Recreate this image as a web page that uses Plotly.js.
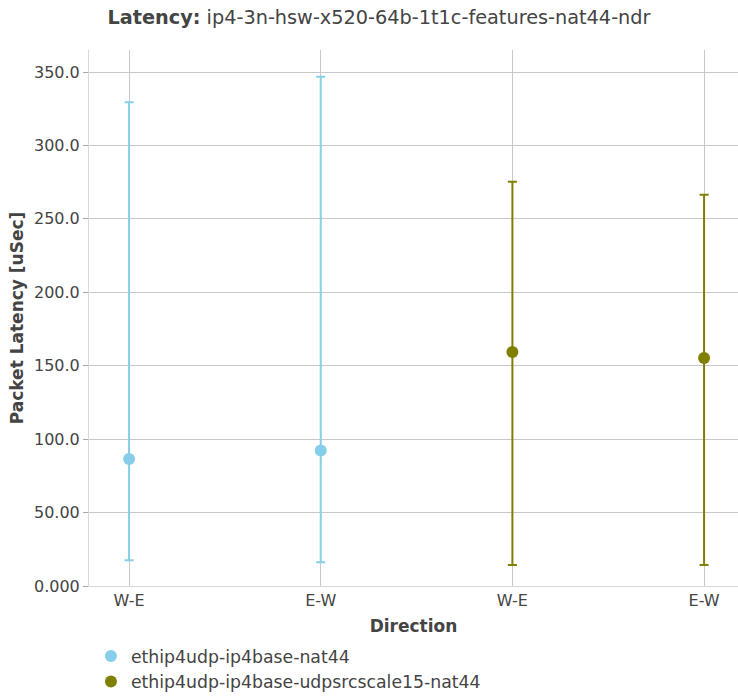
<!DOCTYPE html>
<html>
<head>
<meta charset="utf-8">
<script src="https://cdn.plot.ly/plotly-3.0.1.min.js"></script>
<style>html,body{margin:0;padding:0;background:#fff;}</style>
</head>
<body>
<div id="chart" style="width:738px;height:699px;"></div>
<script>
const tickVals = [0, 1, 2, 3];
const tickLabels = ["W-E", "E-W", "W-E", "E-W"];

const s1Name = "ethip4udp-ip4base-nat44";
const s1X = [0, 1];
const s1Avg = [86.5, 92.2];
const s1Max = [329.5, 346.8];
const s1Min = [17.5, 16.1];

const s2Name = "ethip4udp-ip4base-udpsrcscale15-nat44";
const s2X = [2, 3];
const s2Avg = [159.4, 155.3];
const s2Max = [275.3, 266.4];
const s2Min = [14.3, 14.3];

function mk(name, xs, avg, mx, mn, color) {
  return {
    type: "scatter", mode: "markers", name: name,
    x: xs, y: avg,
    marker: {color: color, size: 12},
    error_y: {
      type: "data", symmetric: false,
      array: avg.map((v, i) => mx[i] - v),
      arrayminus: avg.map((v, i) => v - mn[i]),
      color: color, thickness: 2, width: 4.5
    }
  };
}

const data = [
  mk(s1Name, s1X, s1Avg, s1Max, s1Min, "#87CEEB"),
  mk(s2Name, s2X, s2Avg, s2Max, s2Min, "#808000")
];

const layout = {
  width: 738, height: 699,
  margin: {l: 89, r: 0, t: 50, b: 113},
  paper_bgcolor: "#fff", plot_bgcolor: "#fff",
  font: {family: "DejaVu Sans, sans-serif", color: "#444", size: 16},
  title: {text: "<b>Latency:</b> ip4-3n-hsw-x520-64b-1t1c-features-nat44-ndr", font: {size: 19.3}, x: 0.5135, xanchor: "center", y: 0.985, yanchor: "top"},
  showlegend: true,
  legend: {orientation: "v", x: 0.003, xanchor: "left", yref: "container", y: 0.087, yanchor: "top", font: {size: 17.3}},
  xaxis: {
    title: {text: "<b>Direction</b>", font: {size: 17}, standoff: 10},
    tickmode: "array", tickvals: tickVals, ticktext: tickLabels,
    range: [-0.209, 3.177],
    showgrid: true, gridcolor: "#c8c8c8",
    showline: true, linecolor: "#d8d8d8", linewidth: 1,
    zeroline: false, ticks: "", automargin: false
  },
  yaxis: {
    title: {text: "<b>Packet Latency [uSec]</b>", font: {size: 17}, standoff: 6},
    range: [0, 365], dtick: 50, tickformat: ".4r",
    showgrid: true, gridcolor: "#c8c8c8",
    showline: true, linecolor: "#d8d8d8", linewidth: 1,
    zeroline: false, ticks: "outside", ticklen: 5, tickcolor: "#aaa", automargin: false
  }
};

Plotly.newPlot("chart", data, layout, {displayModeBar: false, staticPlot: true});
</script>
</body>
</html>
